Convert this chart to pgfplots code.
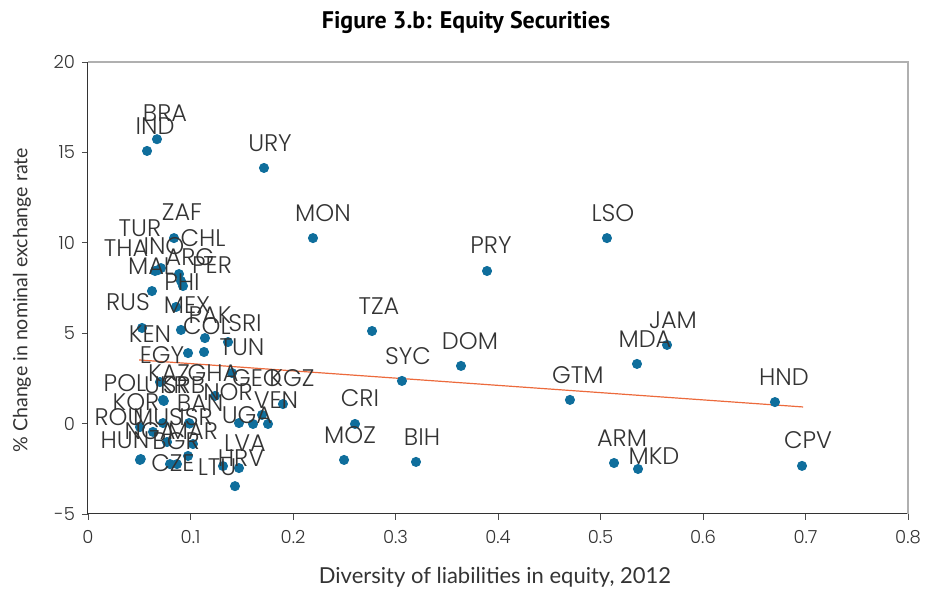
\documentclass[border=0pt]{standalone}
\usepackage{pgfplots}
\pgfplotsset{compat=1.18}
\usepackage{pgfplotstable}
\usepackage{fontspec}
\setmainfont{Lato}
\newfontfamily\lblfont{Poppins Light}
\newfontfamily\titlefont{PT Sans}

\definecolor{dotblue}{HTML}{0F6E9C}
\definecolor{trend}{HTML}{EC6A3C}
\definecolor{labgray}{HTML}{333333}
\definecolor{framegray}{HTML}{B0B0B0}

% x = diversity of equity liabilities, y = % change in exchange rate
% lx, ly = where the label sits
\pgfplotstableread{
name x y lx ly
BRA 0.0673 15.73 0.0751 17.17
IND 0.0576 15.08 0.0654 16.46
URY 0.1717 14.14 0.1776 15.51
MON 0.2195 10.26 0.2293 11.64
LSO 0.5063 10.26 0.5122 11.64
PRY 0.3893 8.44 0.3932 9.88
TZA 0.2771 5.12 0.2839 6.50
DOM 0.3639 3.19 0.3727 4.57
SYC 0.3063 2.36 0.3122 3.74
JAM 0.5649 4.35 0.5707 5.73
MDA 0.5356 3.30 0.5434 4.68
GTM 0.4702 1.31 0.4780 2.69
HND 0.6702 1.19 0.6790 2.58
CRI 0.2605 -0.02 0.2654 1.42
MOZ 0.2498 -2.01 0.2556 -0.63
BIH 0.3200 -2.12 0.3259 -0.74
ARM 0.5132 -2.18 0.5210 -0.80
MKD 0.5366 -2.51 0.5522 -1.80
CPV 0.6966 -2.34 0.7024 -0.91
ZAF 0.0839 10.26 0.0917 11.70
TUR 0.0712 8.60 0.0507 10.82
INO 0.0683 8.49 0.0741 9.82
THA 0.0654 8.44 0.0371 9.71
CHL 0.0888 8.27 0.1122 10.25
ARG 0.0927 7.61 0.0995 9.21
PER 0.0907 7.89 0.1210 8.76
MAL 0.0624 7.33 0.0615 8.72
PHI 0.0859 6.45 0.0917 7.83
RUS 0.0527 5.29 0.0390 6.73
KEN 0.0976 3.90 0.0605 4.96
MEX 0.0907 5.18 0.0966 6.56
PAK 0.1141 4.73 0.1190 6.01
SRI 0.1366 4.51 0.1532 5.57
COL 0.1132 3.96 0.1161 5.40
TUN 0.1405 2.80 0.1502 4.24
EGY 0.0702 2.30 0.0722 3.80
KAZ 0.0732 1.31 0.0790 2.80
GHA 0.1239 1.53 0.1220 2.80
GEO 0.1698 0.48 0.1649 2.52
KGZ 0.1902 1.08 0.1990 2.52
VEN 0.1756 -0.02 0.1834 1.31
UGA 0.1610 -0.02 0.1551 0.48
NOR 0.1473 0.03 0.1366 1.75
BAN 0.0985 0.03 0.1093 1.14
ISR 0.1024 -1.13 0.1054 0.37
MUS 0.0771 -1.02 0.0683 0.37
KOR 0.0507 -0.19 0.0468 1.19
ROU 0.0634 -0.46 0.0302 0.37
UKR 0.0732 0.03 0.0761 2.13
SRB 0.0990 0.00 0.0937 2.13
POL 0.0740 1.25 0.0361 2.24
NGA 0.0507 -2.01 0.0605 -0.41
MAR 0.0976 -1.79 0.1024 -0.41
HUN 0.0515 -1.96 0.0361 -0.91
BGR 0.0800 -2.24 0.0859 -0.96
CZE 0.0868 -2.24 0.0829 -2.18
LTU 0.1317 -2.35 0.1259 -2.40
LVA 0.1473 -2.46 0.1532 -1.08
HRV 0.1434 -3.46 0.1493 -1.91
}\countries

\begin{document}
\begin{tikzpicture}
\begin{axis}[
    scale only axis,
    width=410pt, height=226pt,
    xmin=0, xmax=0.8, ymin=-5, ymax=20,
    xtick={0,0.1,...,0.8}, ytick={-5,0,5,10,15,20},
    axis x line*=bottom, axis y line*=left,
    axis line style={-, draw=black!80, line width=0.5pt},
    tick align=outside, major tick length=3pt,
    tick style={draw=black!70, line width=0.4pt},
    /pgf/number format/assume math mode=true,
    xticklabel style={/pgf/number format/fixed, /pgf/number format/precision=1, yshift=-1.5pt},
    tick label style={font=\lblfont\fontsize{9}{10}\selectfont, text=labgray},
    xlabel={Diversity of liabilities in equity, 2012},
    ylabel={\% Change in nominal exchange rate},
    label style={text=labgray},
    xlabel style={font=\fontsize{11}{13}\selectfont,
        at={([yshift=-31.5pt,xshift=-1.5pt]rel axis cs:0.5,0)}, anchor=center},
    ylabel style={font=\fontsize{9.8}{11}\selectfont,
        at={([xshift=-33pt]rel axis cs:0,0.473)}, anchor=center},
    title={Figure 3.b: Equity Securities},
    title style={font=\titlefont\bfseries\fontsize{12}{14}\selectfont,
        at={([yshift=14pt,xshift=-16pt]rel axis cs:0.5,1)}, anchor=center},
    clip=false,
]
\draw[framegray, line width=0.6pt] (rel axis cs:0,1) -- (rel axis cs:1,1) -- (rel axis cs:1,0);
\addplot[trend, line width=0.6pt, no markers] coordinates {(0.0498,3.52) (0.6976,0.92)};
\addplot[only marks, mark=*, mark size=2.3pt, color=dotblue] table[x=x, y=y] {\countries};
\addplot[draw=none, no markers, nodes near coords, point meta=explicit symbolic,
    nodes near coords align=center,
    nodes near coords style={anchor=center, font=\lblfont\fontsize{12}{13}\selectfont, text=labgray}]
    table[x=lx, y=ly, meta=name] {\countries};
\coordinate (sw) at (rel axis cs:0,0);
\coordinate (ne) at (rel axis cs:1,1);
\end{axis}
\pgfresetboundingbox
\path[use as bounding box] ([shift={(-44pt,-44.5pt)}]sw) rectangle ([shift={(11.5pt,31pt)}]ne);
\end{tikzpicture}
\end{document}
